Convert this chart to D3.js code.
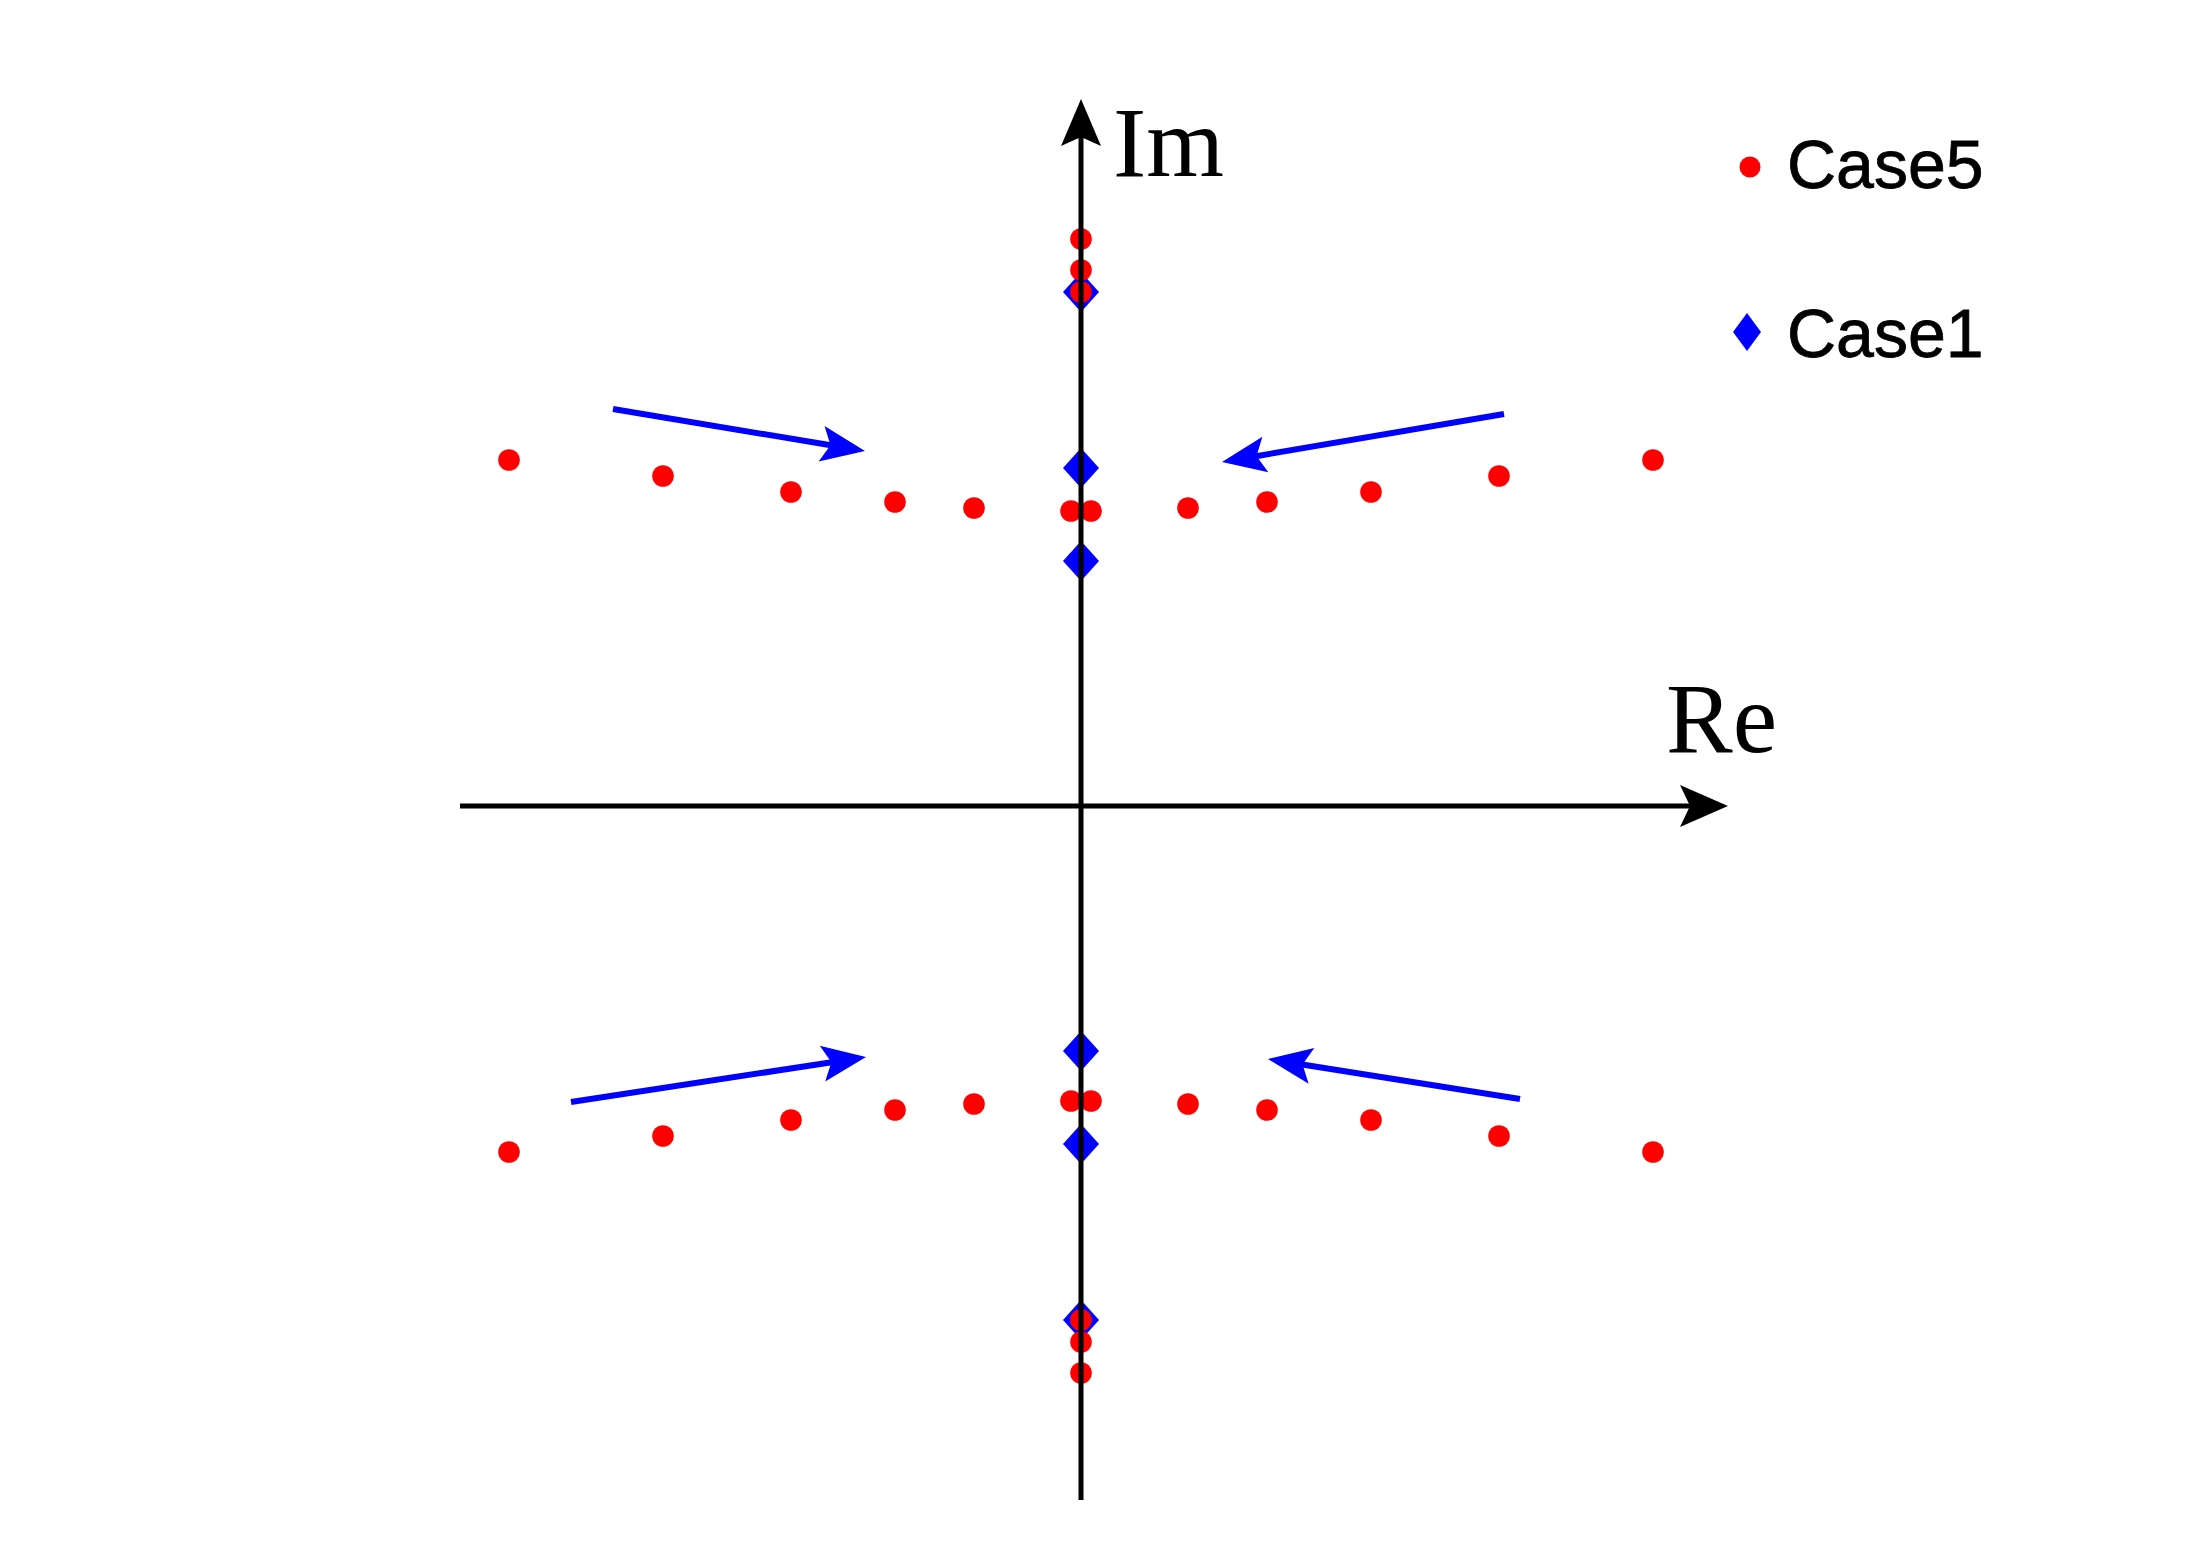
<!DOCTYPE html>
<html><head><meta charset="utf-8">
<script src="https://cdn.jsdelivr.net/npm/d3@7"></script>
<style>html,body{margin:0;padding:0;background:#fff;} svg{display:block;}</style>
</head><body>
<svg id="chart" width="2185" height="1552"></svg>
<script>
// ---- Data (arbitrary units; the plot has no ticks) ----
const case5Re = [-5.72,-4.18,-2.90,-1.86,-1.07,-0.10,0.10,1.07,1.86,2.90,4.18,5.72,
                 -5.72,-4.18,-2.90,-1.86,-1.07,-0.10,0.10,1.07,1.86,2.90,4.18,5.72,
                 0,0,0,0,0,0];
const case5Im = [3.46,3.30,3.14,3.04,2.98,2.95,2.95,2.98,3.04,3.14,3.30,3.46,
                 -3.46,-3.30,-3.14,-3.04,-2.98,-2.95,-2.95,-2.98,-3.04,-3.14,-3.30,-3.46,
                 5.67,5.36,5.14,-5.14,-5.36,-5.67];
const case1Re = [0,0,0,0,0,0];
const case1Im = [5.14,3.38,2.45,-2.45,-3.38,-5.14];
const seriesNames = ["Case5","Case1"];
const axisLabels = ["Re","Im"];
const reAxisExtent = [-6.21, 6.47];
const imAxisExtent = [-6.94, 7.07];
const arrowTailRe = [-4.68, 4.23, -5.10, 4.39];
const arrowTailIm = [3.97, 3.92, -2.96, -2.93];
const arrowTipRe  = [-2.16, 1.41, -2.15, 1.87];
const arrowTipIm  = [3.55, 3.44, -2.51, -2.53];

const svg = d3.select("#chart");
svg.append("rect").attr("width",2185).attr("height",1552).attr("fill","#fff");

const x = d3.scaleLinear().domain([-1,1]).range([981,1181]);
const y = d3.scaleLinear().domain([-1,1]).range([906,706]);

function arrow(g, x1, y1, x2, y2, color, sw, L, W, d) {
  const dx = x2-x1, dy = y2-y1, len = Math.hypot(dx,dy);
  const ux = dx/len, uy = dy/len, nx = -uy, ny = ux;
  const bx = x2 - (L-d)*ux, by = y2 - (L-d)*uy;
  g.append("line").attr("x1",x1).attr("y1",y1).attr("x2",bx+ux*2).attr("y2",by+uy*2)
    .attr("stroke",color).attr("stroke-width",sw);
  const pts = [[x2,y2],[x2-L*ux+W*nx, y2-L*uy+W*ny],[bx,by],[x2-L*ux-W*nx, y2-L*uy-W*ny]];
  g.append("path").attr("d","M"+pts.map(p=>p.join(",")).join("L")+"Z").attr("fill",color);
}

function diamondPath(cx, cy, hw, hh) {
  return `M${cx},${cy-hh}L${cx+hw},${cy}L${cx},${cy+hh}L${cx-hw},${cy}Z`;
}

// Case1 diamonds
svg.append("g").selectAll("path").data(case1Re.map((r,i)=>[r,case1Im[i]])).join("path")
  .attr("d", d => diamondPath(x(d[0]), y(d[1]), 18, 20)).attr("fill","#0000ff");

// Case5 dots
svg.append("g").selectAll("circle").data(case5Re.map((r,i)=>[r,case5Im[i]])).join("circle")
  .attr("cx", d => x(d[0])).attr("cy", d => y(d[1])).attr("r", 10.8).attr("fill","#ff0000");

// Axes (drawn on top)
const ax = svg.append("g");
arrow(ax, x(reAxisExtent[0]), y(0), x(reAxisExtent[1]), y(0), "#000", 5, 48, 21, 10);
arrow(ax, x(0), y(imAxisExtent[0]), x(0), y(imAxisExtent[1]), "#000", 5, 47, 20, 9);

// Blue annotation arrows
const ann = svg.append("g");
arrowTailRe.forEach((r,i) => {
  arrow(ann, x(r), y(arrowTailIm[i]), x(arrowTipRe[i]), y(arrowTipIm[i]), "#0000ff", 6, 44, 18, 9);
});

// Axis labels
svg.append("text").attr("x",1666).attr("y",752).text(axisLabels[0])
  .attr("font-family","'Liberation Serif','Times New Roman',serif").attr("font-size",100).attr("fill","#000");
svg.append("text").attr("x",1113).attr("y",176).text(axisLabels[1])
  .attr("font-family","'Liberation Serif','Times New Roman',serif").attr("font-size",100).attr("fill","#000");

// Legend
const lg = svg.append("g");
lg.append("circle").attr("cx",1750).attr("cy",167).attr("r",10.5).attr("fill","#ff0000");
lg.append("path").attr("d",diamondPath(1747,332,14,19)).attr("fill","#0000ff");
lg.selectAll("text").data(seriesNames).join("text")
  .attr("x",1787).attr("y",(d,i)=> i===0 ? 188 : 357).text(d=>d)
  .attr("font-family","'Liberation Sans',Arial,sans-serif").attr("font-size",68)
  .attr("fill","#000").attr("stroke","#000").attr("stroke-width",0.8);
</script>
</body></html>
